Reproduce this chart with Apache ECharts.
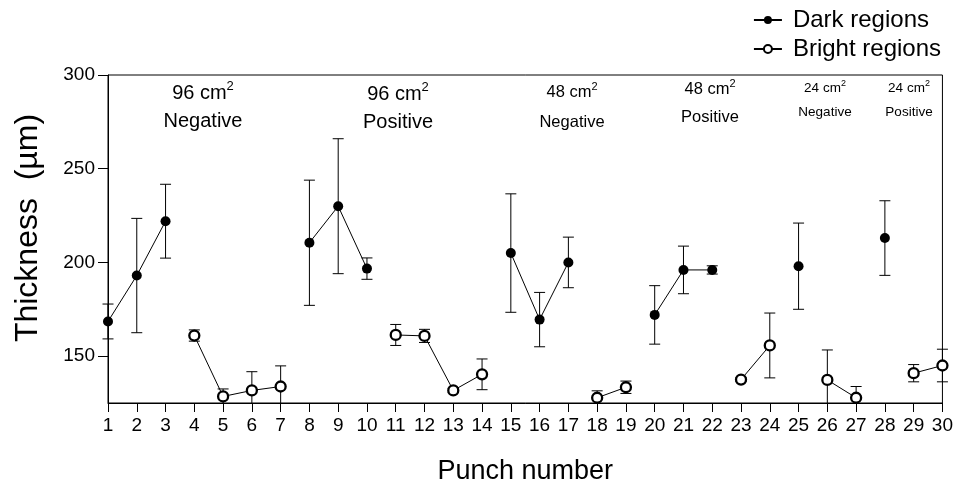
<!DOCTYPE html>
<html>
<head>
<meta charset="utf-8">
<script src="https://cdn.jsdelivr.net/npm/echarts@6/dist/echarts.min.js"></script>
<style>
html,body{margin:0;padding:0;background:#fff;}
#chart{width:956px;height:490px;}
</style>
</head>
<body>
<div id="chart"></div>
<script>
const punches = [1,2,3,4,5,6,7,8,9,10,11,12,13,14,15,16,17,18,19,20,21,22,23,24,25,26,27,28,29,30];
const dark = [168.5,193,222,null,null,null,null,210.5,230,196.7,null,null,null,null,205,169.5,200,null,null,172,196,196,null,null,198,null,null,213,null,null];
const darkErr = [9.3,30.5,19.7,null,null,null,null,33.4,36,5.7,null,null,null,null,31.6,14.5,13.5,null,null,15.6,12.7,2.2,null,null,23,null,null,19.9,null,null];
const bright = [null,null,null,161,128.5,131.7,133.8,null,null,null,161.3,160.8,131.7,140.3,null,null,null,127.8,133.4,null,null,null,137.5,155.7,null,137.3,127.8,null,140.9,145];
const brightErr = [null,null,null,3,4,10,11,null,null,null,5.6,3.5,1,8.2,null,null,null,3.7,3.3,null,null,null,1,17.3,null,16,6,null,4.6,8.7];
const yTicks = [150,200,250,300];
const seriesNames = ['Dark regions','Bright regions'];
const groups = [
  {size:'96', sign:'Negative', x:203, y1:93, y2:121, fs:20, ss:13},
  {size:'96', sign:'Positive', x:398, y1:94, y2:122, fs:20, ss:13},
  {size:'48', sign:'Negative', x:572, y1:92, y2:122, fs:16.5, ss:11},
  {size:'48', sign:'Positive', x:710, y1:89, y2:117, fs:16.5, ss:11},
  {size:'24', sign:'Negative', x:825, y1:88, y2:112, fs:13.5, ss:9},
  {size:'24', sign:'Positive', x:909, y1:88, y2:112, fs:13.5, ss:9}
];

const FONT = "'Liberation Sans', Arial, sans-serif";

function lineData(vals){
  return punches.map((p,i)=> [p, vals[i]==null ? '-' : vals[i]]);
}
function errData(vals, errs){
  const out = [];
  punches.forEach((p,i)=>{ if(vals[i]!=null && errs[i]!=null) out.push([p, vals[i], errs[i]]); });
  return out;
}
function renderErr(params, api){
  const x = api.value(0), v = api.value(1), e = api.value(2);
  const top = api.coord([x, v + e]);
  const bot = api.coord([x, v - e]);
  const cs = params.coordSys;
  const yMin = cs.y, yMax = cs.y + cs.height;
  const px = top[0];
  const y1 = Math.max(top[1], yMin), y2 = Math.min(bot[1], yMax);
  const half = 5.5;
  const st = {stroke:'#000', lineWidth:1};
  const ch = [{type:'line', shape:{x1:px,y1:y1,x2:px,y2:y2}, style:st}];
  if (top[1] >= yMin) ch.push({type:'line', shape:{x1:px-half,y1:top[1],x2:px+half,y2:top[1]}, style:st});
  if (bot[1] <= yMax) ch.push({type:'line', shape:{x1:px-half,y1:bot[1],x2:px+half,y2:bot[1]}, style:st});
  return {type:'group', children:ch};
}

const graphics = [];
groups.forEach(g=>{
  graphics.push({
    type:'text', position:[g.x, g.y1],
    style:{
      text:'{a|' + g.size + ' cm}{s|2}',
      x:0, y:0, align:'center', verticalAlign:'middle',
      rich:{
        a:{fontSize:g.fs, fontFamily:FONT, fill:'#000', lineHeight:Math.round(g.fs*1.35)},
        s:{fontSize:g.ss, fontFamily:FONT, fill:'#000', verticalAlign:'top', lineHeight:g.ss}
      }
    }
  });
  graphics.push({
    type:'text', position:[g.x, g.y2],
    style:{text:g.sign, x:0, y:0, align:'center', verticalAlign:'middle', fontSize:g.fs, fontFamily:FONT, fill:'#000'}
  });
});

const chart = echarts.init(document.getElementById('chart'), null, {renderer:'canvas'});
chart.setOption({
  animation:false,
  backgroundColor:'#fff',
  textStyle:{fontFamily:FONT, color:'#000'},
  grid:{left:108, right:13, top:75, bottom:84, show:true, borderColor:'#000', borderWidth:1, containLabel:false},
  legend:{
    data:seriesNames, orient:'vertical', right:10, top:3, itemWidth:28, itemHeight:10, itemGap:5,
    textStyle:{fontSize:24, fontFamily:FONT, color:'#000', padding:[0,0,0,6]}, selectedMode:false
  },
  xAxis:{
    type:'value', min:1, max:30, interval:1,
    name:'Punch number', nameLocation:'middle', nameGap:55,
    nameTextStyle:{fontSize:27, fontFamily:FONT, color:'#000'},
    axisLine:{lineStyle:{color:'#000', width:1}},
    axisTick:{inside:false, length:9, lineStyle:{color:'#000'}},
    axisLabel:{fontSize:19, color:'#000', margin:13, fontFamily:FONT},
    splitLine:{show:false}
  },
  yAxis:{
    type:'value', min:125, max:300,
    name:'Thickness  (\u00b5m)', nameLocation:'middle', nameGap:64,
    nameTextStyle:{fontSize:32, fontFamily:FONT, color:'#000', padding:[0,0,0,22]},
    axisLine:{lineStyle:{color:'#000', width:1}},
    axisTick:{length:10, lineStyle:{color:'#000'}, customValues:yTicks},
    axisLabel:{fontSize:19, color:'#000', margin:13, fontFamily:FONT, customValues:yTicks},
    splitLine:{show:false}
  },
  graphic:graphics,
  series:[
    {type:'custom', name:'darkErr', renderItem:renderErr, data:errData(dark, darkErr), z:1, silent:true},
    {type:'custom', name:'brightErr', renderItem:renderErr, data:errData(bright, brightErr), z:1, silent:true},
    {type:'line', name:seriesNames[0], data:lineData(dark), connectNulls:false, symbol:'circle', symbolSize:10,
     lineStyle:{color:'#000', width:1}, itemStyle:{color:'#000', borderColor:'#000', borderWidth:0}, z:3},
    {type:'line', name:seriesNames[1], data:lineData(bright), connectNulls:false, symbol:'circle', symbolSize:10,
     lineStyle:{color:'#000', width:1}, itemStyle:{color:'#fff', borderColor:'#000', borderWidth:2.3}, z:3}
  ]
});
</script>
</body>
</html>
